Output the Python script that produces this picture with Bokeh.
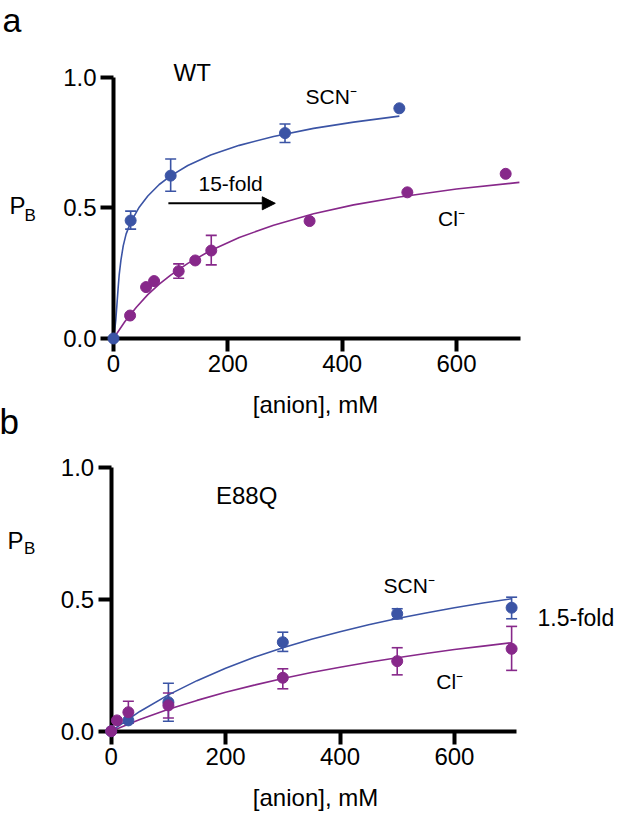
from bokeh.plotting import figure
from bokeh.models import (ColumnDataSource, Whisker, TeeHead, Label, Arrow, NormalHead,
                          FixedTicker, NumeralTickFormatter, Range1d, LinearAxis)
from bokeh.embed import file_html
from bokeh.resources import INLINE

FONT = "Liberation Sans"
BLUE = "#3B54A5"
PURPLE = "#87288A"

# ---------------- Panel a (WT) ----------------
a_scn_x = [0, 30, 100, 300, 500]
a_scn_y = [0.0, 0.452, 0.624, 0.787, 0.882]
a_scn_err_x = [30, 100, 300]
a_scn_err_lo = [0.419, 0.564, 0.751]
a_scn_err_hi = [0.488, 0.688, 0.822]

a_cl_x = [29, 57, 71, 114, 143, 171, 343, 514, 686]
a_cl_y = [0.088, 0.197, 0.220, 0.258, 0.299, 0.337, 0.450, 0.560, 0.631]
a_cl_err_x = [114, 171]
a_cl_err_lo = [0.231, 0.282]
a_cl_err_hi = [0.286, 0.395]

# fitted curves
a_scn_fit_x = [0, 2, 4, 6, 8, 10, 13, 17, 22, 30, 45, 60, 80, 100, 130, 170, 220, 280, 350, 420, 500]
a_scn_fit_y = [0, 0.03, 0.07, 0.13, 0.19, 0.245, 0.30, 0.355, 0.40, 0.445, 0.503, 0.546, 0.59,
               0.623, 0.663, 0.703, 0.740, 0.774, 0.805, 0.829, 0.852]
a_cl_fit_x = [0, 20, 40, 60, 80, 100, 130, 170, 220, 280, 350, 420, 500, 600, 710]
a_cl_fit_y = [0, 0.065, 0.12, 0.168, 0.208, 0.243, 0.288, 0.337, 0.387, 0.434, 0.478, 0.512,
              0.542, 0.573, 0.598]

# ---------------- Panel b (E88Q) ----------------
b_scn_x = [0, 30, 100, 300, 500, 700]
b_scn_y = [0.0, 0.041, 0.110, 0.338, 0.446, 0.469]
b_scn_err_x = [100, 300, 500, 700]
b_scn_err_lo = [0.038, 0.303, 0.427, 0.427]
b_scn_err_hi = [0.182, 0.376, 0.465, 0.509]

b_cl_x = [0, 10, 30, 100, 300, 500, 700]
b_cl_y = [0.0, 0.041, 0.072, 0.098, 0.203, 0.266, 0.313]
b_cl_err_x = [30, 100, 300, 500, 700]
b_cl_err_lo = [0.030, 0.050, 0.161, 0.214, 0.231]
b_cl_err_hi = [0.114, 0.145, 0.237, 0.317, 0.398]

b_fit_x = [0, 50, 100, 150, 200, 250, 300, 350, 400, 450, 500, 550, 600, 650, 700]
b_scn_fit_y = [0, 0.075, 0.138, 0.192, 0.239, 0.281, 0.317, 0.349, 0.378, 0.404, 0.428,
               0.449, 0.469, 0.487, 0.503]
b_cl_fit_y = [0, 0.044, 0.083, 0.117, 0.148, 0.175, 0.200, 0.223, 0.243, 0.262, 0.279,
              0.295, 0.310, 0.323, 0.336]

x_ticks = [0, 200, 400, 600]
y_ticks = [0, 0.5, 1.0]

W, H = 617, 813

# one canvas; each panel has its own pair of ranges
p = figure(width=W, height=H, output_backend="svg", toolbar_location=None, tools="",
           x_range=Range1d(-197.66, 881.6), y_range=Range1d(-1.8199, 1.2950),
           x_axis_location=None, y_axis_location=None, min_border=0)
p.extra_x_ranges = {"xb": Range1d(-193.53, 885.1)}
p.extra_y_ranges = {"yb": Range1d(-0.3126, 2.7752)}
p.title.visible = False
p.outline_line_color = None
p.grid.visible = False
p.background_fill_color = "white"
p.border_fill_color = "white"


def style_axis(ax, tick_out):
    ax.axis_line_width = 4
    ax.axis_line_color = "black"
    ax.major_tick_in = 0
    ax.major_tick_out = tick_out
    ax.major_tick_line_width = 4
    ax.major_tick_line_color = "black"
    ax.minor_tick_line_color = None
    ax.major_label_text_font = FONT
    ax.major_label_text_font_size = "24px"
    ax.major_label_text_color = "black"
    ax.major_label_standoff = 4


def add_axes(xr, yr, xmax):
    kw = {}
    if xr is not None:
        kw = dict(x_range_name=xr, y_range_name=yr)
    xa = LinearAxis(fixed_location=0, bounds=(0, xmax), ticker=FixedTicker(ticks=x_ticks), **kw)
    ya = LinearAxis(fixed_location=0, bounds=(0, 1), ticker=FixedTicker(ticks=y_ticks),
                    formatter=NumeralTickFormatter(format="0.0"), **kw)
    style_axis(xa, 13)
    style_axis(ya, 13)
    p.add_layout(xa, "below")
    p.add_layout(ya, "left")


def add_series(x, y, ex, elo, ehi, fx, fy, color, rn):
    kw = {} if rn is None else dict(x_range_name=rn[0], y_range_name=rn[1])
    p.line(fx, fy, line_color=color, line_width=1.6, **kw)
    src = ColumnDataSource(dict(x=ex, lo=elo, hi=ehi))
    p.add_layout(Whisker(source=src, base="x", lower="lo", upper="hi", line_color=color,
                         line_width=1.6,
                         upper_head=TeeHead(size=11, line_color=color, line_width=1.6),
                         lower_head=TeeHead(size=11, line_color=color, line_width=1.6), **kw))
    p.scatter(x, y, size=11, fill_color=color, line_color=color, level="overlay", **kw)


def label(x, y, text, size, align="left", rn=None):
    kw = {} if rn is None else dict(x_range_name=rn[0], y_range_name=rn[1])
    p.add_layout(Label(x=x, y=y, text=text, text_font=FONT, text_font_size=size,
                       text_color="black", text_baseline="middle", text_align=align, **kw))


RB = ("xb", "yb")

# ---- panel a ----
add_axes(None, None, 712)
add_series(a_cl_x, a_cl_y, a_cl_err_x, a_cl_err_lo, a_cl_err_hi, a_cl_fit_x, a_cl_fit_y, PURPLE, None)
add_series(a_scn_x, a_scn_y, a_scn_err_x, a_scn_err_lo, a_scn_err_hi, a_scn_fit_x, a_scn_fit_y, BLUE, None)
label(-194.2, 1.2218, "a", "34px")
label(104.95, 1.0207, "WT", "24px")
label(336, 0.9285, "SCN\u207b", "21px")
label(148.7, 0.5952, "15-fold", "21px")
label(567.6, 0.4611, "Cl\u207b", "21px")
label(-181.9, 0.5111, "P", "24px")
label(-155.7, 0.4713, "B", "17px")
label(353.3, -0.2513, "[anion], mM", "24px", align="center")
p.add_layout(Arrow(end=NormalHead(size=13, fill_color="black", line_color="black"),
                   x_start=96, y_start=0.518, x_end=283, y_end=0.518,
                   line_width=2, line_color="black"))

# ---- panel b ----
add_axes("xb", "yb", 709)
add_series(b_scn_x, b_scn_y, b_scn_err_x, b_scn_err_lo, b_scn_err_hi, b_fit_x, b_scn_fit_y, BLUE, RB)
add_series(b_cl_x, b_cl_y, b_cl_err_x, b_cl_err_lo, b_cl_err_hi, b_fit_x, b_cl_fit_y, PURPLE, RB)
label(-195.3, 1.1772, "b", "35px", rn=RB)
label(183.2, 0.8956, "E88Q", "24px", rn=RB)
label(-181.3, 0.7258, "P", "24px", rn=RB)
label(-152.4, 0.6939, "B", "17px", rn=RB)
label(476, 0.5547, "SCN\u207b", "21px", rn=RB)
label(745.3, 0.4318, "1.5-fold", "23px", rn=RB)
label(568.2, 0.1888, "Cl\u207b", "21px", rn=RB)
label(357.2, -0.2503, "[anion], mM", "24px", align="center", rn=RB)

open("out.html", "w").write(file_html(p, INLINE))
